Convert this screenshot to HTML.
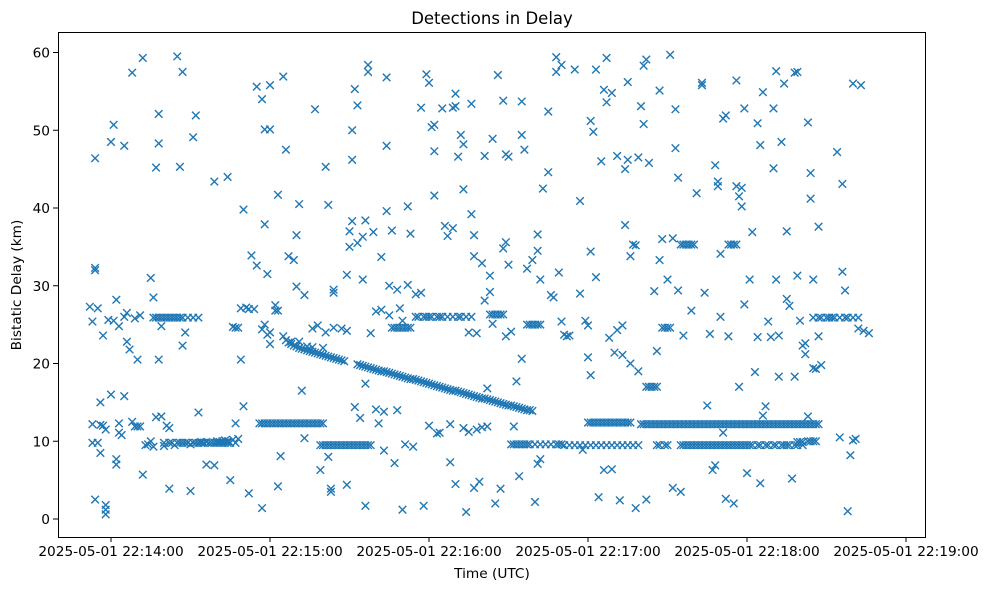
<!DOCTYPE html>
<html><head><meta charset="utf-8"><title>Detections in Delay</title>
<style>
html,body{margin:0;padding:0;background:#fff;}
svg{display:block;font-family:"DejaVu Sans","Liberation Sans",sans-serif;}
</style></head>
<body>
<svg id="chart" width="987" height="590" viewBox="0 0 987 590">
  <rect x="0" y="0" width="987" height="590" fill="#fff"/>
  <text x="492" y="24" text-anchor="middle" font-size="16.5" fill="#000">Detections in Delay</text>
  <g id="marks"></g>
  <rect x="58.5" y="32.5" width="867" height="505" fill="none" stroke="#000" stroke-width="1"/>
  <g id="xaxis"></g>
  <g id="yaxis"></g>
  <text x="492" y="578" text-anchor="middle" font-size="13.7" fill="#000">Time (UTC)</text>
  <text x="0" y="0" transform="translate(21,285) rotate(-90)" text-anchor="middle" font-size="13.7" fill="#000">Bistatic Delay (km)</text>
</svg>
<script>
// time in seconds after 2025-05-01 22:14:00, delay in km
const xTickSeconds = [0, 60, 120, 180, 240, 300];
const xTickLabels = ["2025-05-01 22:14:00","2025-05-01 22:15:00","2025-05-01 22:16:00","2025-05-01 22:17:00","2025-05-01 22:18:00","2025-05-01 22:19:00"];
const yTicks = [0, 10, 20, 30, 40, 50, 60];

const scatterPoints = [
[-8,27.3],[-7,25.4],[-6,46.4],[-6,32],[-6,32.3],[-5,27.1],[-4,15],[-4,8.5],[-3,23.6],[-7,12.2],[-7,9.8],[-6,2.5],[-5,9.8],[-4,12.1],[-3,12],[-2,11.5],[-2,1.8],[-2,1.2],[-2,0.6],[-1,25.6],[0,16],[0,48.5],[1,50.7],[1,25.5],[2,28.2],[2,7],[2,7.7],[3,12.3],[3,11.1],[3,24.8],[4,10.8],[5,26],[5,48],[5,15.8],[6,22.8],[6,26.5],[7,21.8],[8,12.5],[8,57.4],[9,25.8],[9,11.9],[10,20.5],[10,11.9],[11,26.2],[11,11.9],[12,59.3],[12,5.7],[13,9.5],[14,9.6],[15,31],[15,10],[16,28.5],[16,9.3],[17,45.2],[17,13.1],[18,52.1],[18,48.3],[18,20.5],[19,24.8],[19,13.2],[20,9.4],
[21,12],[22,11.7],[22,3.9],[24,9.5],[25,59.5],[26,45.3],[27,57.5],[27,22.3],[28,24],[30,3.6],[30,9.6],[31,49.1],[32,51.9],[33,13.7],[34,9.9],[35,9.8],[36,7],[36,9.9],[38,9.8],[39,43.4],[39,6.9],[40,10],[41,9.9],[42,10],[43,10.1],[44,44],[44,10],[45,5],[46,10.2],[46,24.7],[47,24.6],[47,12.3],[48,24.6],[48,10.3],[49,20.5],[49,27.1],[50,14.5],[50,39.8],[51,27.2],[52,27],[52,3.3],[53,33.9],[54,27],[55,55.6],[55,32.6],[57,24.4],[57,1.4],[57,54],[58,50.1],[58,25],[58,37.9],[59,23.7],[59,31.5],[60,24],[60,55.8],[60,22.5],[60,50.1],[62,27.5],[62,26.8],[63,26.8],[63,4.2],[63,41.7],[64,8.1],[65,23.5],[65,56.9],[66,47.5],[67,33.8],[68,22.8],[69,33.3],[70,36.5],[70,29.9],[71,40.5],[71,22.8],[72,16.5],[73,28.8],[73,10.4],[74,22.2],[76,24.5],[76,22.1],[77,52.7],[78,24.9],[79,6.3],[80,22],[81,24],[81,45.3],[82,40.4],[82,8],[83,3.9],[83,3.5],[84,29.5],[84,24.6],[84,29.1],[87,24.5],[89,31.4],[89,24.2],[89,4.4],[90,35],[90,37],[91,38.3],[91,46.2],[91,50],[92,55.3],[92,14.4],[93,53.2],[93,35.5],[94,13],[95,36.3],[95,30.8],[96,1.7],[96,38.4],[96,17.4],[97,57.5],[97,58.4],[98,23.9],
[99,36.9],[100,26.7],[100,14.1],[101,12.3],[102,33.7],[102,26.9],[103,13.8],[103,8.8],[104,39.6],[104,56.8],[104,48],[105,26.2],[105,30],[106,37.1],[107,7.2],[108,14],[108,29.5],[109,27.1],[110,25.5],[110,1.2],[111,9.6],[112,30.1],[112,40.2],[113,36.7],[114,9.3],[115,28.9],[117,52.9],[117,29.1],[118,1.7],[119,57.2],[120,56.1],[120,12],[121,50.4],[122,50.7],[122,47.3],[122,41.6],[123,11],[124,11.1],[125,52.8],[126,37.7],[127,36.4],[128,7.3],[128,12.2],[129,52.9],[129,37.4],[130,4.5],[130,53.1],[130,54.7],[131,46.6],[132,49.4],[133,42.4],[133,48.2],[133,11.7],[134,0.9],[135,11.2],[135,24],[136,53.4],[136,39.2],[137,33.8],[137,36.5],[137,4],[138,11.5],[138,23.9],[139,4.8],[140,11.8],[140,32.9],[141,28.1],[141,46.7],[142,11.9],[142,16.8],[143,29.2],[143,31.3],[144,48.9],[144,25.1],[145,2],[146,57.1],[147,3.9],[148,34.8],[148,53.8],[149,35.6],[149,46.9],[149,23.5],[150,46.6],[150,32.7],[151,24.1],[152,11.9],[153,17.7],[154,5.5],[155,53.7],[155,20.6],[155,49.4],[156,47.5],[157,32.2],[159,33.3],[160,2.2],[161,36.6],[161,34.5],[161,7.1],[162,7.7],[162,30.8],[163,42.5],[165,44.6],[165,52.4],[166,28.8],[167,28.5],[168,57.5],[168,59.4],[169,31.7],[170,58.4],[170,25.4],[171,23.7],[172,23.5],[173,23.6],[175,57.8],[177,40.9],[177,29],[178,8.9],[179,25.5],[180,20.8],[180,24.9],[181,18.5],[181,34.4],[181,51.2],[182,49.8],[183,57.8],[183,31.1],[184,2.8],[185,46],[186,55.2],[186,6.3],[187,53.6],[187,59.3],[188,23.3],[189,54.8],[189,6.4],[190,21.4],[191,46.7],[191,24.3],[192,2.4],[193,24.9],[193,21.1],[194,37.8],[194,45],[195,56.2],[195,46.2],[196,33.8],[196,20],[197,35.3],[198,35.2],[198,1.4],[199,46.5],[199,19],[200,53.1],[201,50.8],[201,58.3],[202,59.1],[202,2.5],[203,45.8],[205,29.3],[206,21.6],[207,33.3],[207,55.1],[208,36],[210,30.8],[211,59.7],[212,36.1],[212,4],[213,47.7],[213,52.7],[214,43.9],[214,29.4],[215,3.5],[216,23.6],[219,26.8],[221,41.9],[223,55.8],[223,56.1],[224,29.1],[225,14.6],[226,23.8],[227,6.3],[228,6.9],[228,45.5],[229,43.4],[229,42.8],[230,34.1],[230,26],[231,11.1],[231,51.5],[232,51.9],[232,2.6],[233,23.5],[235,2],[236,42.8],[236,56.4],[237,41.5],[237,17],[238,40.2],[238,42.6],[239,52.8],[239,27.6],[240,5.9],[241,30.8],[242,36.9],[243,18.9],[244,50.9],[244,23.4],[245,48.1],[245,4.6],[246,13.3],[246,54.9],[247,14.5],[248,25.4],[249,23.4],[250,45.1],[250,52.8],[251,57.6],[251,30.8],[252,18.3],[252,23.6],[253,48.5],[254,56],[255,37],[255,28.3],[256,27.4],[257,5.2],[258,18.3],[258,57.4],[259,57.5],[259,31.3],[260,25.5],[261,22.3],[262,22.6],[262,21.2],[263,13.2],[263,51],[264,44.5],[264,41.2],[265,30.8],[265,19.4],[266,19.3],[267,23.5],[267,37.6],[268,19.8],[274,47.2],[275,10.5],[276,43.1],[276,31.8],[277,29.4],[278,1],[279,8.2],[280,56],[280,10.1],[281,10.3],[282,24.5],[283,55.8],[284,24.2],[286,23.9]
];

const diagonalPoints = [
[66,23.0],[67,22.7],[68,22.5],[69,22.3],[70,22.2],[71,22.0],[72,21.9],[73,21.8],[74,21.7],[75,21.6],[76,21.5],[77,21.4],[78,21.3],[79,21.2],[80,21.1],[81,21.0],[82,20.9],[83,20.8],[84,20.7],[85,20.6],[86,20.5],[87,20.4],[88,20.3],
[93,19.9],[94,19.8],[95,19.7],[96,19.6],[97,19.5],[98,19.4],[99,19.3],[100,19.2],[101,19.1],[102,19.0],[103,19.0],[104,18.9],[105,18.8],[106,18.7],[107,18.6],[108,18.5],[109,18.4],[110,18.3],[111,18.2],[112,18.1],[113,18.0],[114,18.0],[115,17.9],[116,17.8],[117,17.7],[118,17.6],[119,17.5],[120,17.4],[121,17.3],[122,17.2],[123,17.1],[124,17.0],[125,16.9],[126,16.8],[127,16.7],[128,16.6],[129,16.5],[130,16.5],[131,16.4],[132,16.3],[133,16.2],[134,16.1],[135,16.0],[136,15.9],[137,15.8],[138,15.7],[139,15.6],[140,15.5],[141,15.5],[142,15.4],[143,15.3],[144,15.2],[145,15.1],[146,15.0],[147,14.9],[148,14.8],[149,14.7],[150,14.6],[151,14.6],[152,14.5],[153,14.4],[154,14.3],[155,14.2],[156,14.1],[157,14.0],[158,14.0],[159,13.9]
];

const bandLevels = [25.9, 9.8, 12.3, 9.5, 24.6, 26.0, 26.3, 25.0, 9.6, 12.4, 9.5, 12.2, 9.5, 24.6, 35.3, 35.3, 17.0, 25.9, 10.0, 9.9];
const bandTimes = [
 [16,17,18,19,20,21,22,23,24,25,26,27,29,31,33],
 [20,22,23,25,26,27,28,29,31,32,33,34,35,37,39,40,41,42,43,44,45,47],
 [56,57,58,59,60,61,62,63,64,65,66,67,68,69,70,71,72,73,74,75,76,77,78,79,80],
 [79,80,81,82,83,84,85,86,87,88,89,90,91,92,93,94,95,96,97,98],
 [106,107,108,109,110,111,112,113],
 [115,116,118,119,120,121,123,124,125,127,129,131,132,134,136],
 [143,144,145,146,147,148],
 [157,158,159,160,161,162],
 [151,152,153,154,155,156,157,158,160,162,164,166,168,169,170],
 [180,181,182,183,184,185,186,187,188,189,190,191,192,193,194,195,196],
 [171,173,175,177,179,181,183,185,187,189,191,193,195,197,199],
 [200,201,202,203,204,205,206,207,208,209,210,211,212,213,214,215,216,217,218,219,220,221,222,223,224,225,226,227,228,229,230,231,232,233,234,235,236,237,238,239,240,241,242,243,244,245,246,247,248,249,250,251,252,253,254,255,256,257,258,259,260,261,262,263,264,265,266,267],
 [206,207,209,210,215,216,217,218,219,220,221,222,223,224,225,226,227,228,229,230,231,232,233,234,235,236,237,238,239,240,241,242,244,245,247,248,250,251,253,254,255,256,258,259,261],
 [208,209,210,211],
 [215,216,217,218,219,220],
 [233,234,235,236],
 [202,203,204,205,206],
 [265,267,268,270,271,272,273,275,277,278,280,282],
 [263,264,265,266],
 [259,260,261]
];

const NS = "http://www.w3.org/2000/svg";
function xScale(s) { return 111 + s * 159 / 60; }
function yScale(d) { return 519 - d * (519 - 52.5) / 60; }

const marks = document.getElementById("marks");
function addMarker(t, d) {
  const cx = xScale(t), cy = yScale(d), r = 3.8;
  const p = document.createElementNS(NS, "path");
  p.setAttribute("d", `M${cx-r},${cy-r}L${cx+r},${cy+r}M${cx-r},${cy+r}L${cx+r},${cy-r}`);
  p.setAttribute("stroke", "#1f77b4");
  p.setAttribute("stroke-width", "1.4");
  p.setAttribute("fill", "none");
  
  
  marks.appendChild(p);
}
scatterPoints.forEach(pt => addMarker(pt[0], pt[1]));
diagonalPoints.forEach(pt => addMarker(pt[0], pt[1]));
bandTimes.forEach((times, i) => times.forEach(t => addMarker(t, bandLevels[i])));

const xaxis = document.getElementById("xaxis");
xTickSeconds.forEach((s, i) => {
  const x = xScale(s);
  const l = document.createElementNS(NS, "line");
  l.setAttribute("x1", x); l.setAttribute("x2", x);
  l.setAttribute("y1", 537); l.setAttribute("y2", 542);
  l.setAttribute("stroke", "#000");
  
  
  xaxis.appendChild(l);
  const tx = document.createElementNS(NS, "text");
  tx.setAttribute("x", x); tx.setAttribute("y", 556);
  tx.setAttribute("text-anchor", "middle");
  tx.setAttribute("font-size", "13.7");
  tx.textContent = xTickLabels[i];
  
  
  xaxis.appendChild(tx);
});
const yaxis = document.getElementById("yaxis");
yTicks.forEach(v => {
  const y = yScale(v);
  const l = document.createElementNS(NS, "line");
  l.setAttribute("x1", 53); l.setAttribute("x2", 58);
  l.setAttribute("y1", y); l.setAttribute("y2", y);
  l.setAttribute("stroke", "#000");
  
  
  yaxis.appendChild(l);
  const tx = document.createElementNS(NS, "text");
  tx.setAttribute("x", 50); tx.setAttribute("y", y + 5);
  tx.setAttribute("text-anchor", "end");
  tx.setAttribute("font-size", "13.7");
  tx.textContent = v;
  
  
  yaxis.appendChild(tx);
});
</script>
</body></html>
